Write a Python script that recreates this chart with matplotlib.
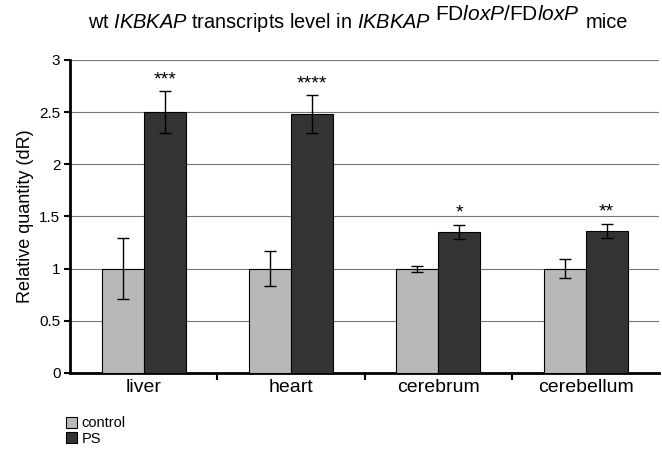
import numpy as np
import matplotlib.pyplot as plt

plt.rcParams['font.family'] = ['Liberation Sans', 'DejaVu Sans']
plt.rcParams['mathtext.fontset'] = 'custom'
plt.rcParams['mathtext.rm'] = 'Liberation Sans'
plt.rcParams['mathtext.it'] = 'Liberation Sans:italic'

# data
tissues = ['liver', 'heart', 'cerebrum', 'cerebellum']
control = [1.0, 1.0, 1.0, 1.0]
control_err = [0.29, 0.17, 0.03, 0.09]
ps = [2.5, 2.48, 1.35, 1.36]
ps_err = [0.2, 0.18, 0.07, 0.07]
stars = ['***', '****', '*', '**']

fig = plt.figure(figsize=(6.62, 4.51), dpi=100)
ax = fig.add_axes([0.106, 0.173, 0.89, 0.694])

x = np.arange(len(tissues))
w = 0.285
ax.bar(x - w / 2, control, w, color='#b8b8b8', edgecolor='black', linewidth=0.8,
       label='control', zorder=3)
ax.bar(x + w / 2, ps, w, color='#333333', edgecolor='black', linewidth=0.8,
       label='PS', zorder=3)
ax.errorbar(x - w / 2, control, yerr=control_err, fmt='none', ecolor='black',
            elinewidth=1, capsize=4, capthick=1, zorder=4)
ax.errorbar(x + w / 2, ps, yerr=ps_err, fmt='none', ecolor='black',
            elinewidth=1, capsize=4, capthick=1, zorder=4)

for xi, v, e, s in zip(x, ps, ps_err, stars):
    ax.text(xi + w / 2, v + e + 0.03, s, ha='center', va='bottom', fontsize=14)

ax.set_xlim(-0.5, 3.5)
ax.set_ylim(0, 3)
ax.set_yticks(np.arange(0, 3.01, 0.5))
ax.set_yticklabels(['0', '0.5', '1', '1.5', '2', '2.5', '3'], fontsize=11)
ax.yaxis.grid(True, color='#777777', linewidth=0.8, zorder=0)
ax.set_xticks(x)
ax.set_xticklabels(tissues, fontsize=14)
ax.set_xticks([0.5, 1.5, 2.5], minor=True)
ax.tick_params(axis='x', which='major', length=0, pad=4)
ax.tick_params(axis='x', which='minor', length=5, width=1.5, direction='out')
ax.tick_params(axis='y', length=4, width=1.5, direction='out', pad=3)
ax.set_ylabel('Relative quantity (dR)', fontsize=13)

for side in ['top', 'right']:
    ax.spines[side].set_visible(False)
for side in ['left', 'bottom']:
    ax.spines[side].set_linewidth(2)

fig.legend(loc='upper left', bbox_to_anchor=(0.1, 0.077), frameon=False,
           fontsize=10.5, handlelength=0.75, handleheight=0.75, handletextpad=0.3,
           labelspacing=0.1, borderpad=0, borderaxespad=0)

# title built from pieces so the superscript keeps full size
renderer = fig.canvas.get_renderer()
W, H = fig.bbox.width, fig.bbox.height
x0 = 88
base = 451 - 28
t1 = fig.text(x0 / W, base / H,
              r'wt $\mathit{IKBKAP}$ transcripts level in $\mathit{IKBKAP}$',
              ha='left', va='baseline', fontsize=14.4)
x1 = x0 + t1.get_window_extent(renderer).width + 4
t2 = fig.text(x1 / W, (base + 8) / H,
              r'FD$\mathit{loxP}$/FD$\mathit{loxP}$',
              ha='left', va='baseline', fontsize=15)
x2 = x1 + t2.get_window_extent(renderer).width + 6
fig.text(x2 / W, base / H, 'mice', ha='left', va='baseline', fontsize=14.4)

fig.savefig('out.png', dpi=100)
